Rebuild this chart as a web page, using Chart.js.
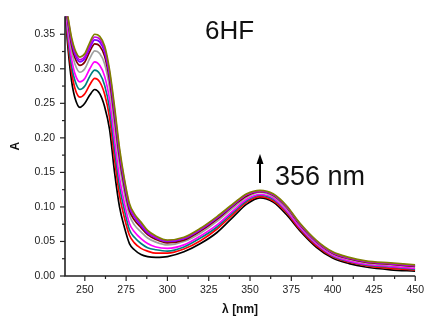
<!DOCTYPE html>
<html>
<head>
<meta charset="utf-8">
<script src="https://cdn.jsdelivr.net/npm/chart.js@4.4.0/dist/chart.umd.min.js"></script>
<style>
    html, body { margin: 0; padding: 0; background: #fff; }
    #wrap { width: 432px; height: 324px; }
</style>
</head>
<body>
<div id="wrap"><canvas id="myChart" width="432" height="324"></canvas></div>
<script>
// wavelength, nm
const wavelengths = [238, 240, 242, 244, 247, 250, 253, 256, 259, 262, 265, 268, 271, 274, 277, 280, 284, 288, 293, 300,
    310, 320, 330, 340, 348, 356, 364, 372, 380, 390, 400, 410, 420, 435, 450];

// absorbance spectra, lowest to highest
const absBlack = [0.385, 0.325, 0.282, 0.258, 0.244, 0.250, 0.262, 0.270, 0.264, 0.245, 0.212, 0.150, 0.100, 0.070, 0.047, 0.038, 0.031, 0.028, 0.027, 0.028,
    0.035, 0.047, 0.063, 0.086, 0.104, 0.113, 0.107, 0.089, 0.066, 0.042, 0.026, 0.018, 0.013, 0.009, 0.007];
const absRed = [0.388, 0.334, 0.295, 0.272, 0.259, 0.264, 0.277, 0.286, 0.281, 0.263, 0.229, 0.169, 0.117, 0.084, 0.059, 0.048, 0.040, 0.036, 0.033, 0.033,
    0.039, 0.051, 0.068, 0.090, 0.107, 0.115, 0.109, 0.092, 0.068, 0.044, 0.028, 0.020, 0.015, 0.011, 0.009];
const absTeal = [0.390, 0.341, 0.304, 0.283, 0.270, 0.275, 0.289, 0.298, 0.293, 0.276, 0.242, 0.183, 0.130, 0.095, 0.067, 0.056, 0.047, 0.041, 0.038, 0.036,
    0.042, 0.055, 0.071, 0.093, 0.109, 0.117, 0.111, 0.094, 0.070, 0.046, 0.029, 0.021, 0.016, 0.013, 0.010];
const absMagenta = [0.392, 0.348, 0.314, 0.293, 0.281, 0.286, 0.300, 0.310, 0.305, 0.289, 0.255, 0.197, 0.142, 0.105, 0.076, 0.064, 0.054, 0.047, 0.042, 0.040,
    0.045, 0.058, 0.074, 0.095, 0.111, 0.118, 0.113, 0.095, 0.071, 0.047, 0.030, 0.022, 0.017, 0.014, 0.011];
const absGray = [0.395, 0.358, 0.326, 0.307, 0.295, 0.300, 0.315, 0.326, 0.322, 0.307, 0.272, 0.216, 0.160, 0.119, 0.088, 0.074, 0.064, 0.055, 0.049, 0.045,
    0.050, 0.062, 0.079, 0.099, 0.114, 0.121, 0.115, 0.098, 0.074, 0.049, 0.032, 0.024, 0.019, 0.016, 0.013];
const absWine = [0.397, 0.364, 0.334, 0.316, 0.305, 0.310, 0.325, 0.336, 0.333, 0.318, 0.283, 0.229, 0.171, 0.128, 0.095, 0.081, 0.070, 0.060, 0.053, 0.048,
    0.052, 0.065, 0.082, 0.102, 0.116, 0.122, 0.117, 0.100, 0.075, 0.050, 0.033, 0.025, 0.020, 0.017, 0.014];
const absViolet = [0.398, 0.367, 0.339, 0.321, 0.310, 0.315, 0.330, 0.342, 0.339, 0.324, 0.289, 0.236, 0.177, 0.133, 0.099, 0.085, 0.073, 0.062, 0.055, 0.050,
    0.054, 0.067, 0.084, 0.103, 0.118, 0.123, 0.118, 0.101, 0.076, 0.051, 0.034, 0.026, 0.021, 0.018, 0.015];
const absPurple = [0.399, 0.370, 0.342, 0.325, 0.313, 0.318, 0.334, 0.346, 0.343, 0.329, 0.294, 0.240, 0.181, 0.137, 0.102, 0.087, 0.076, 0.064, 0.056, 0.051,
    0.055, 0.068, 0.085, 0.104, 0.118, 0.123, 0.118, 0.101, 0.076, 0.051, 0.034, 0.026, 0.021, 0.018, 0.015];
const absOlive = [0.400, 0.372, 0.345, 0.328, 0.317, 0.322, 0.338, 0.350, 0.347, 0.333, 0.298, 0.245, 0.185, 0.140, 0.105, 0.090, 0.078, 0.066, 0.058, 0.052,
    0.056, 0.069, 0.086, 0.105, 0.119, 0.124, 0.119, 0.102, 0.077, 0.052, 0.035, 0.027, 0.022, 0.019, 0.016];

const seriesList = [absOlive, absPurple, absViolet, absWine, absGray, absMagenta, absTeal, absRed, absBlack];
const seriesColors = ['#808000', '#C000E0', '#8000FF', '#800000', '#A0A0A0', '#FF00FF', '#008080', '#FF0000', '#000000'];

// ticks
const xTicks = [250, 262.5, 275, 287.5, 300, 312.5, 325, 337.5, 350, 362.5, 375, 387.5, 400, 412.5, 425, 437.5, 450];
const yTicks = [0, 0.025, 0.05, 0.075, 0.10, 0.125, 0.15, 0.175, 0.20, 0.225, 0.25, 0.275, 0.30, 0.325, 0.35];

const fontName = 'Liberation Sans, Arial, sans-serif';

const isMajorX = v => Math.abs(v % 25) < 1e-6;
const isMajorY = v => Math.abs(Math.round(v * 1000) % 50) < 1e-6;

// axes, tick marks and the labels inside the plot
const decorPlugin = {
    id: 'decor',
    afterDraw(chart) {
        const ctx = chart.ctx;
        const area = chart.chartArea;
        const xs = chart.scales.x;
        const ys = chart.scales.y;
        ctx.save();
        ctx.strokeStyle = '#222';
        ctx.lineWidth = 1.6;
        ctx.beginPath();
        ctx.moveTo(area.left, area.top);
        ctx.lineTo(area.left, area.bottom);
        ctx.lineTo(area.right, area.bottom);
        ctx.stroke();

        ctx.lineWidth = 1.2;
        xTicks.forEach(v => {
            const px = xs.getPixelForValue(v);
            const len = isMajorX(v) ? 5 : 3;
            ctx.beginPath();
            ctx.moveTo(px, area.bottom);
            ctx.lineTo(px, area.bottom + len);
            ctx.stroke();
        });
        yTicks.forEach(v => {
            const py = ys.getPixelForValue(v);
            const len = isMajorY(v) ? 5 : 3;
            ctx.beginPath();
            ctx.moveTo(area.left, py);
            ctx.lineTo(area.left - len, py);
            ctx.stroke();
        });

        // labels
        ctx.fillStyle = '#111';
        ctx.textBaseline = 'alphabetic';
        ctx.textAlign = 'left';
        ctx.font = '26px ' + fontName;
        ctx.fillText('6HF', 205, 39);
        ctx.font = '27px ' + fontName;
        ctx.fillText('356 nm', 275, 185);

        // arrow
        ctx.strokeStyle = '#000';
        ctx.fillStyle = '#000';
        ctx.lineWidth = 2;
        ctx.beginPath();
        ctx.moveTo(260, 162);
        ctx.lineTo(260, 183);
        ctx.stroke();
        ctx.beginPath();
        ctx.moveTo(260, 154);
        ctx.lineTo(256.5, 164);
        ctx.lineTo(263.5, 164);
        ctx.closePath();
        ctx.fill();
        ctx.restore();
    }
};

const datasets = seriesList.map((arr, i) => ({
    data: wavelengths.map((w, j) => ({x: w, y: arr[j]})),
    borderColor: seriesColors[i],
    borderWidth: 1.7,
    pointRadius: 0,
    fill: false,
    cubicInterpolationMode: 'monotone'
}));

new Chart(document.getElementById('myChart'), {
    type: 'line',
    data: {datasets: datasets},
    options: {
        responsive: false,
        animation: false,
        events: [],
        layout: {padding: {top: 11, right: 15, left: 0, bottom: 0}},
        plugins: {
            legend: {display: false},
            tooltip: {enabled: false}
        },
        scales: {
            x: {
                type: 'linear',
                min: 238,
                max: 450,
                afterBuildTicks: axis => { axis.ticks = xTicks.filter(isMajorX).map(v => ({value: v})); },
                afterFit: axis => { axis.height = 48; },
                grid: {display: false, drawTicks: false},
                border: {display: false},
                ticks: {
                    padding: 8,
                    maxRotation: 0,
                    color: '#222',
                    font: {family: fontName, size: 10.5},
                    callback: v => String(v)
                },
                title: {
                    display: true,
                    text: 'λ [nm]',
                    color: '#111',
                    font: {family: fontName, size: 12, weight: 'bold'},
                    padding: {top: 7, bottom: 7}
                }
            },
            y: {
                min: 0,
                max: 0.376,
                afterBuildTicks: axis => { axis.ticks = yTicks.filter(isMajorY).map(v => ({value: v})); },
                afterFit: axis => { axis.width = 65; },
                grid: {display: false, drawTicks: false},
                border: {display: false},
                ticks: {
                    padding: 10,
                    color: '#222',
                    font: {family: fontName, size: 10.5},
                    callback: v => v.toFixed(2)
                },
                title: {
                    display: true,
                    text: 'A',
                    color: '#111',
                    font: {family: fontName, size: 12, weight: 'bold'},
                    padding: {top: 8, bottom: 4}
                }
            }
        }
    },
    plugins: [decorPlugin]
});
</script>
</body>
</html>
